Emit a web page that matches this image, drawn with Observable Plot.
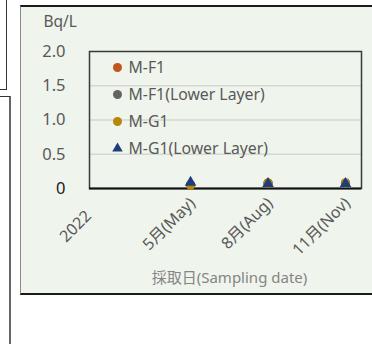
<!DOCTYPE html>
<html>
<head>
<meta charset="utf-8">
<script src="https://cdn.jsdelivr.net/npm/d3@7"></script>
<script src="https://cdn.jsdelivr.net/npm/@observablehq/plot@0.6"></script>
<style>
  html, body { margin: 0; padding: 0; background: #fff; }
  #wrap { position: relative; width: 372px; height: 344px; overflow: hidden;
          font-family: "Noto Sans", "Noto Sans CJK JP", sans-serif; }
  /* neighbouring panel edges */
  .edge-a { position: absolute; left: -10px; top: -10px; width: 16px; height: 99px;
            border-right: 1.5px solid #333; border-bottom: 1.5px solid #333; }
  .edge-b { position: absolute; left: -10px; top: 96px; width: 19px; height: 300px;
            border-top: 1.5px solid #333; border-right: 2px solid #666; }
  /* chart panel */
  .panel { position: absolute; left: 20px; top: 5px; width: 360px; height: 286px;
           background: #eff4ec; border-left: 1px solid #8a8a8a;
           border-top: 2px solid #1a1a1a; border-bottom: 2px solid #1a1a1a; }
  #chart { position: absolute; left: 0; top: 0; }
</style>
</head>
<body>
<div id="wrap">
  <div class="edge-a"></div>
  <div class="edge-b"></div>
  <div class="panel"></div>
  <div id="chart"></div>
</div>
<script>
// Series shown in the legend, in drawing order
const series = ["M-F1", "M-F1(Lower Layer)", "M-G1", "M-G1(Lower Layer)"];
const seriesColors = ["#c0561e", "#636363", "#b8860b", "#1f3d7a"];
const seriesSymbols = ["circle", "circle", "circle", "triangle"];

// Sampling dates and measured values (Bq/L)
const sampleDates = ["2022-05-01", "2022-08-01", "2022-11-01"];
const mF1 = [0.05, 0.08, 0.08];
const mF1Lower = [0.05, 0.08, 0.08];
const mG1 = [0.05, 0.08, 0.08];
const mG1Lower = [0.09, 0.07, 0.07];

// Axis ticks
const tickDates = ["2022-01-01", "2022-05-01", "2022-08-01", "2022-11-01"];
const tickLabels = ["2022", "5月(May)", "8月(Aug)", "11月(Nov)"];
const yTicks = [0, 0.5, 1.0, 1.5, 2.0];

const values = [mF1, mF1Lower, mG1, mG1Lower];
const rows = series.map((name, i) =>
  sampleDates.map((d, j) => ({series: name, date: new Date(d), value: values[i][j]}))
);
const ticks = tickDates.map((d, i) => ({date: new Date(d), label: tickLabels[i]}));

const font = '"Noto Sans", "Noto Sans CJK JP", sans-serif';
const grey = "#595959";

const legendMarks = series.flatMap((name, i) => [
  Plot.dot([name], {frameAnchor: "top-left", dx: 28, dy: 16 + 27 * i,
    fill: seriesColors[i], symbol: seriesSymbols[i], r: seriesSymbols[i] === "triangle" ? 3.9 : 4.5}),
  Plot.text([name], {frameAnchor: "top-left", dx: 39, dy: 16 + 27 * i, text: d => d,
    textAnchor: "start", lineAnchor: "middle", fontSize: 15.8, fill: grey})
]);

const dataMarks = rows.map((r, i) =>
  Plot.dot(r, {x: "date", y: "value", fill: seriesColors[i], symbol: seriesSymbols[i],
    r: seriesSymbols[i] === "triangle" ? 4.3 : 4.6})
);

const chart = Plot.plot({
  width: 372,
  height: 344,
  marginLeft: 89,
  marginRight: 11,
  marginTop: 51,
  marginBottom: 156,
  style: {background: "transparent", fontFamily: font, overflow: "visible"},
  x: {type: "utc", domain: [new Date("2022-01-01"), new Date("2022-11-20")], axis: null, label: null},
  y: {domain: [0, 2], axis: null, label: null},
  marks: [
    Plot.gridY([0.5, 1.0, 1.5], {stroke: "#d4d8d2", strokeOpacity: 1, strokeWidth: 1.3}),
    Plot.frame({stroke: "#3a3a3a", strokeWidth: 1.5}),
    Plot.ruleY([0], {stroke: "#111", strokeWidth: 2}),
    Plot.axisY(yTicks.filter(d => d > 0), {tickSize: 0, tickPadding: 24, fontSize: 16.5,
      fill: grey, label: null, tickFormat: d => d.toFixed(1)}),
    Plot.axisY([0], {tickSize: 0, tickPadding: 24, fontSize: 16.5, fill: "#1a1a1a",
      label: null, tickFormat: () => "0"}),
    ...legendMarks,
    ...dataMarks,
    // rotated date labels
    Plot.text(ticks.slice(1), {x: "date", frameAnchor: "bottom", text: "label", rotate: -45,
      textAnchor: "end", lineAnchor: "middle", dx: 2, dy: 12, fontSize: 16, fill: grey}),
    Plot.text(ticks.slice(0, 1), {x: "date", frameAnchor: "bottom", text: "label", rotate: -45,
      textAnchor: "end", lineAnchor: "middle", dx: -1, dy: 25, fontSize: 16, fill: grey}),
    // unit and axis titles
    Plot.text(["Bq/L"], {frameAnchor: "top-left", text: d => d, textAnchor: "start",
      lineAnchor: "middle", dx: -46, dy: -29, fontSize: 15.5, fill: grey}),
    Plot.text(["採取日(Sampling date)"], {frameAnchor: "bottom", text: d => d,
      lineAnchor: "middle", dx: 4, dy: 90, fontSize: 15, fill: "#858585"})
  ]
});

document.getElementById("chart").append(chart);
</script>
</body>
</html>
